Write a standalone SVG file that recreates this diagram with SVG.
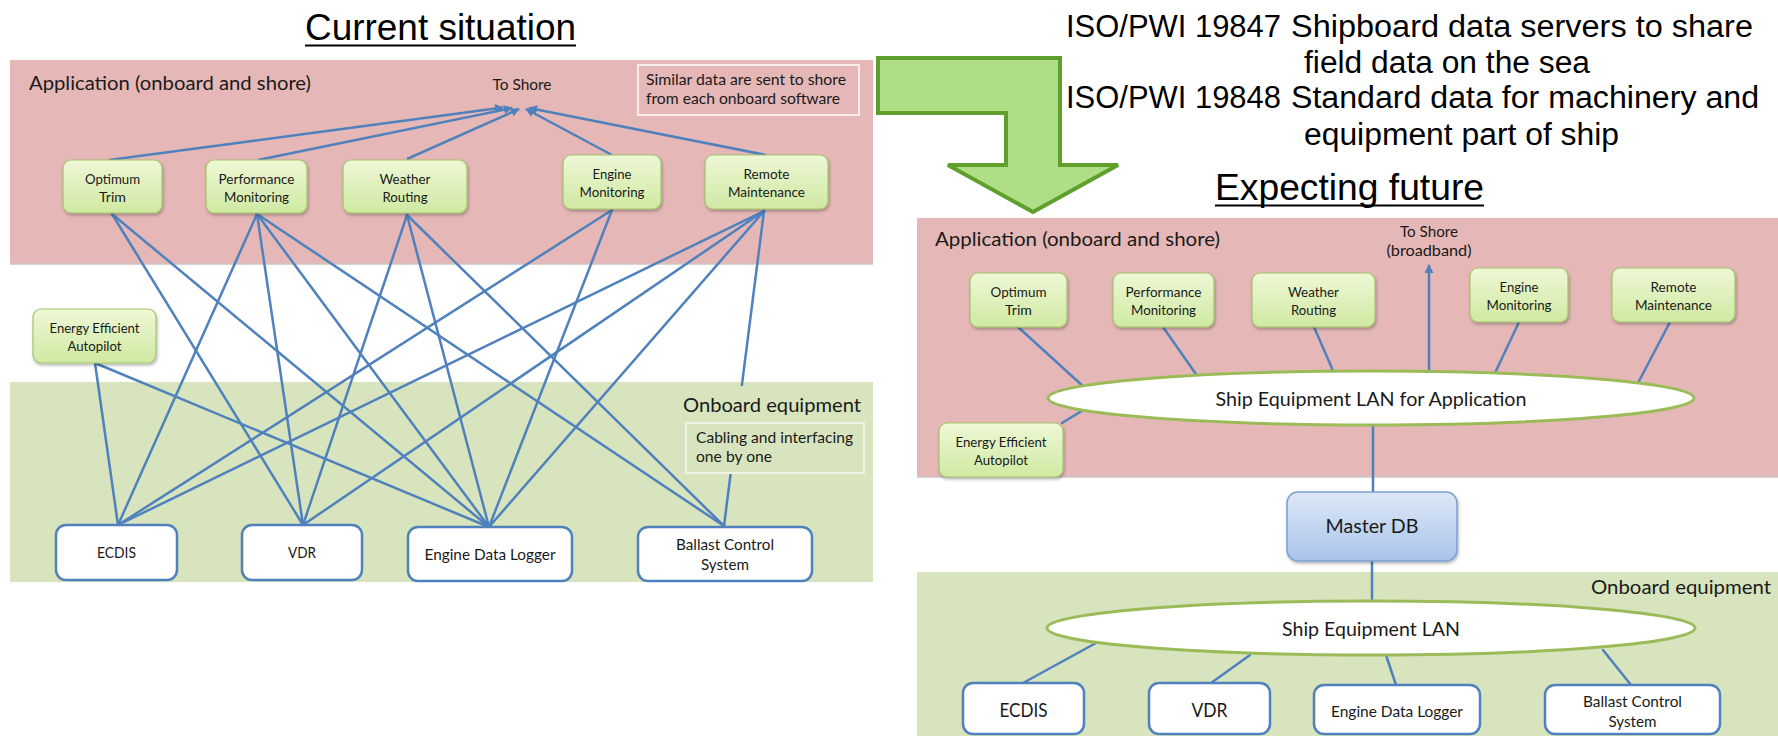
<svg xmlns="http://www.w3.org/2000/svg" width="1778" height="736" viewBox="0 0 1778 736">
  <style>
    .title { font-family: "Liberation Sans", Arial, sans-serif; font-size: 36px; fill: #000; }
    .iso { font-family: "Liberation Sans", Arial, sans-serif; font-size: 31px; fill: #000; }
    .sect { font-family: Lato, "Open Sans", sans-serif; font-size: 19.5px; fill: #1a1a1a; }
    .note { font-family: Lato, "Open Sans", sans-serif; font-size: 15px; fill: #1a1a1a; }
    .lbl { font-family: Lato, "Open Sans", sans-serif; font-size: 13.2px; fill: #1a1a1a; text-anchor: middle; }
    .eq { font-family: Lato, "Open Sans", sans-serif; font-size: 15.2px; fill: #1a1a1a; text-anchor: middle; }
    .eqbig { font-family: Lato, "Open Sans", sans-serif; font-size: 19px; fill: #1a1a1a; text-anchor: middle; }
    .mid { text-anchor: middle; }
    .pink { fill: #e5b8b7; }
    .green { fill: #d7e4bd; }
    .app { fill: url(#appFill); stroke: #a3c46a; stroke-width: 1.2; filter: url(#shadow); }
    .equip { fill: #ffffff; stroke: #4f81bd; stroke-width: 2.5; }
    .lan { fill: #ffffff; stroke: #9bbb59; stroke-width: 3; }
    .wire { stroke: #4f81bd; stroke-width: 2.5; fill: none; stroke-linecap: round; }
    .up { stroke: #4f81bd; stroke-width: 2.5; fill: none; marker-end: url(#head); }
  </style>
  <defs>
    <linearGradient id="appFill" x1="0" y1="0" x2="0" y2="1">
      <stop offset="0" stop-color="#eef8d6"/>
      <stop offset="1" stop-color="#cfe9a2"/>
    </linearGradient>
    <linearGradient id="dbFill" x1="0" y1="0" x2="0" y2="1">
      <stop offset="0" stop-color="#dde8f6"/>
      <stop offset="1" stop-color="#a9c4ea"/>
    </linearGradient>
    <filter id="shadow" x="-10%" y="-10%" width="130%" height="140%">
      <feDropShadow dx="1" dy="2" stdDeviation="1.5" flood-color="#000" flood-opacity="0.28"/>
    </filter>
    <marker id="head" viewBox="0 0 10 10" refX="9" refY="5" markerWidth="3.6" markerHeight="3.6" orient="auto">
      <path d="M0,0 L10,5 L0,10 z" fill="#4f81bd"/>
    </marker>
  </defs>

  <rect width="1778" height="736" fill="#ffffff"/>

  <!-- ===== Left: current situation ===== -->
  <text class="title mid" x="440.5" y="40" textLength="271" lengthAdjust="spacingAndGlyphs">Current situation</text>
  <line x1="305" y1="45.5" x2="576" y2="45.5" stroke="#000" stroke-width="2"/>

  <g id="left-bands">
    <rect class="pink" x="10" y="60" width="863" height="204"/>
    <line x1="10" y1="264" x2="873" y2="264" stroke="#cdc4c4" stroke-width="1.5"/>
    <rect class="green" x="10" y="382" width="863" height="200"/>
  </g>

  <g id="left-labels">
    <text class="sect" x="29" y="90" textLength="282" lengthAdjust="spacingAndGlyphs">Application (onboard and shore)</text>
    <text class="note mid" x="522" y="90" font-size="14.5" textLength="59" lengthAdjust="spacingAndGlyphs">To Shore</text>
    <rect x="638" y="65" width="221" height="50" fill="none" stroke="#f6ecec" stroke-width="2"/>
    <text class="note" x="646" y="85" textLength="200" lengthAdjust="spacingAndGlyphs">Similar data are sent to shore</text>
    <text class="note" x="646" y="104" textLength="194" lengthAdjust="spacingAndGlyphs">from each onboard software</text>
  </g>

  <g id="left-connectors">
    <!-- uplinks to shore -->
    <line class="up" x1="109" y1="160" x2="503" y2="107.5"/>
    <line class="up" x1="258" y1="160" x2="512" y2="108"/>
    <line class="up" x1="407" y1="159" x2="519" y2="109"/>
    <line class="up" x1="612" y1="155" x2="526" y2="109"/>
    <line class="up" x1="766" y1="155" x2="529" y2="108"/>
    <!-- point-to-point cabling -->
    <line class="wire" x1="112" y1="214" x2="303" y2="525"/>
    <line class="wire" x1="112" y1="214" x2="489" y2="527"/>
    <line class="wire" x1="257" y1="214" x2="118" y2="525"/>
    <line class="wire" x1="257" y1="214" x2="303" y2="525"/>
    <line class="wire" x1="257" y1="214" x2="489" y2="527"/>
    <line class="wire" x1="257" y1="214" x2="724" y2="526"/>
    <line class="wire" x1="407" y1="215" x2="303" y2="525"/>
    <line class="wire" x1="407" y1="215" x2="489" y2="527"/>
    <line class="wire" x1="407" y1="215" x2="724" y2="526"/>
    <line class="wire" x1="612" y1="210" x2="118" y2="525"/>
    <line class="wire" x1="612" y1="210" x2="489" y2="527"/>
    <line class="wire" x1="764" y1="211" x2="118" y2="525"/>
    <line class="wire" x1="764" y1="211" x2="303" y2="525"/>
    <line class="wire" x1="764" y1="211" x2="489" y2="527"/>
    <line class="wire" x1="764" y1="211" x2="724" y2="526"/>
    <line class="wire" x1="95" y1="363" x2="118" y2="525"/>
    <line class="wire" x1="95" y1="363" x2="489" y2="527"/>
  </g>

  <g id="left-onboard-note">
    <rect class="green" x="680" y="386" width="186" height="88"/>
    <text class="sect" x="683" y="412" textLength="178" lengthAdjust="spacingAndGlyphs">Onboard equipment</text>
    <rect x="686" y="423" width="178" height="50" fill="none" stroke="#eef3e3" stroke-width="2"/>
    <text class="note" x="696" y="443" textLength="157" lengthAdjust="spacingAndGlyphs">Cabling and interfacing</text>
    <text class="note" x="696" y="462" textLength="76" lengthAdjust="spacingAndGlyphs">one by one</text>
  </g>

  <g id="L-optimum-trim">
    <rect class="app" x="63" y="160" width="99" height="53" rx="8"/>
    <text class="lbl" x="112.5" y="184" textLength="55" lengthAdjust="spacingAndGlyphs">Optimum</text>
    <text class="lbl" x="112.5" y="202" textLength="27" lengthAdjust="spacingAndGlyphs">Trim</text>
  </g>
  <g id="L-performance-monitoring">
    <rect class="app" x="206" y="160" width="101" height="53" rx="8"/>
    <text class="lbl" x="256.5" y="184" textLength="76" lengthAdjust="spacingAndGlyphs">Performance</text>
    <text class="lbl" x="256.5" y="202" textLength="65" lengthAdjust="spacingAndGlyphs">Monitoring</text>
  </g>
  <g id="L-weather-routing">
    <rect class="app" x="343" y="160" width="124" height="53" rx="8"/>
    <text class="lbl" x="405" y="184" textLength="51" lengthAdjust="spacingAndGlyphs">Weather</text>
    <text class="lbl" x="405" y="202" textLength="45" lengthAdjust="spacingAndGlyphs">Routing</text>
  </g>
  <g id="L-engine-monitoring">
    <rect class="app" x="563" y="155" width="98" height="54" rx="8"/>
    <text class="lbl" x="612" y="179" textLength="39" lengthAdjust="spacingAndGlyphs">Engine</text>
    <text class="lbl" x="612" y="197" textLength="65" lengthAdjust="spacingAndGlyphs">Monitoring</text>
  </g>
  <g id="L-remote-maintenance">
    <rect class="app" x="705" y="155" width="123" height="54" rx="8"/>
    <text class="lbl" x="766.5" y="179" textLength="46" lengthAdjust="spacingAndGlyphs">Remote</text>
    <text class="lbl" x="766.5" y="197" textLength="77" lengthAdjust="spacingAndGlyphs">Maintenance</text>
  </g>
  <g id="L-energy-efficient-autopilot">
    <rect class="app" x="33" y="309" width="123" height="54" rx="8"/>
    <text class="lbl" x="94.5" y="333" textLength="90" lengthAdjust="spacingAndGlyphs">Energy Efficient</text>
    <text class="lbl" x="94.5" y="351" textLength="54" lengthAdjust="spacingAndGlyphs">Autopilot</text>
  </g>

  <g id="L-ecdis">
    <rect class="equip" x="56" y="525" width="121" height="55" rx="10"/>
    <text class="eq" x="116.5" y="558" textLength="39" lengthAdjust="spacingAndGlyphs">ECDIS</text>
  </g>
  <g id="L-vdr">
    <rect class="equip" x="242" y="525" width="120" height="55" rx="10"/>
    <text class="eq" x="302" y="558" textLength="28" lengthAdjust="spacingAndGlyphs">VDR</text>
  </g>
  <g id="L-engine-data-logger">
    <rect class="equip" x="408" y="527" width="164" height="54" rx="10"/>
    <text class="eq" x="490" y="560" textLength="131" lengthAdjust="spacingAndGlyphs">Engine Data Logger</text>
  </g>
  <g id="L-ballast-control">
    <rect class="equip" x="638" y="527" width="174" height="54" rx="10"/>
    <text class="eq" x="725" y="550" textLength="98" lengthAdjust="spacingAndGlyphs">Ballast Control</text>
    <text class="eq" x="725" y="570" textLength="48" lengthAdjust="spacingAndGlyphs">System</text>
  </g>

  <!-- ===== Transition arrow ===== -->
  <g id="transition-arrow">
    <polygon points="878,58 1060,58 1060,165 1118,165 1033,212 948,165 1006,165 1006,113 878,113"
             fill="#b0de86" stroke="#5e9f2e" stroke-width="4" stroke-linejoin="miter"/>
  </g>

  <!-- ===== Standards text ===== -->
  <g id="standards">
    <text class="iso" x="1066" y="37" textLength="215" lengthAdjust="spacingAndGlyphs">ISO/PWI 19847</text>
    <text class="iso" x="1291" y="37" textLength="462" lengthAdjust="spacingAndGlyphs">Shipboard data servers to share</text>
    <text class="iso" x="1304" y="73" textLength="286" lengthAdjust="spacingAndGlyphs">field data on the sea</text>
    <text class="iso" x="1066" y="108" textLength="215" lengthAdjust="spacingAndGlyphs">ISO/PWI 19848</text>
    <text class="iso" x="1291" y="108" textLength="468" lengthAdjust="spacingAndGlyphs">Standard data for machinery and</text>
    <text class="iso" x="1304" y="145" textLength="315" lengthAdjust="spacingAndGlyphs">equipment part of ship</text>
  </g>

  <!-- ===== Right: expecting future ===== -->
  <text class="title mid" x="1349.5" y="200" textLength="269" lengthAdjust="spacingAndGlyphs">Expecting future</text>
  <line x1="1215" y1="205.5" x2="1484" y2="205.5" stroke="#000" stroke-width="2"/>

  <g id="right-bands">
    <rect class="pink" x="917" y="218" width="861" height="259"/>
    <line x1="917" y1="477" x2="1778" y2="477" stroke="#cdc4c4" stroke-width="1.5"/>
    <rect class="green" x="917" y="572" width="861" height="164"/>
  </g>

  <g id="right-labels">
    <text class="sect" x="935" y="246" textLength="285" lengthAdjust="spacingAndGlyphs">Application (onboard and shore)</text>
    <text class="note mid" x="1429" y="237" font-size="14" textLength="58" lengthAdjust="spacingAndGlyphs">To Shore</text>
    <text class="note mid" x="1429" y="256" font-size="14" textLength="85" lengthAdjust="spacingAndGlyphs">(broadband)</text>
    <text class="sect" x="1591" y="594" textLength="180" lengthAdjust="spacingAndGlyphs">Onboard equipment</text>
  </g>

  <g id="right-connectors">
    <line class="wire" x1="1018" y1="327" x2="1085" y2="388"/>
    <line class="wire" x1="1163" y1="327" x2="1198" y2="377"/>
    <line class="wire" x1="1314" y1="327" x2="1334" y2="373"/>
    <line class="wire" x1="1519" y1="322" x2="1495" y2="373"/>
    <line class="wire" x1="1670" y1="322" x2="1638" y2="383"/>
    <line class="wire" x1="1062" y1="423" x2="1085" y2="409"/>
    <line class="up" x1="1429" y1="372" x2="1429" y2="265"/>
    <line class="wire" x1="1373" y1="425" x2="1373" y2="492"/>
    <line class="wire" x1="1372" y1="561" x2="1372" y2="602"/>
    <line class="wire" x1="1096" y1="643" x2="1023" y2="683"/>
    <line class="wire" x1="1250" y1="655" x2="1211" y2="683"/>
    <line class="wire" x1="1386" y1="655" x2="1396" y2="685"/>
    <line class="wire" x1="1603" y1="650" x2="1631" y2="685"/>
  </g>

  <g id="R-optimum-trim">
    <rect class="app" x="970" y="273" width="97" height="54" rx="8"/>
    <text class="lbl" x="1018.5" y="297" textLength="56" lengthAdjust="spacingAndGlyphs">Optimum</text>
    <text class="lbl" x="1018.5" y="315" textLength="27" lengthAdjust="spacingAndGlyphs">Trim</text>
  </g>
  <g id="R-performance-monitoring">
    <rect class="app" x="1113" y="273" width="101" height="54" rx="8"/>
    <text class="lbl" x="1163.5" y="297" textLength="76" lengthAdjust="spacingAndGlyphs">Performance</text>
    <text class="lbl" x="1163.5" y="315" textLength="65" lengthAdjust="spacingAndGlyphs">Monitoring</text>
  </g>
  <g id="R-weather-routing">
    <rect class="app" x="1252" y="273" width="123" height="54" rx="8"/>
    <text class="lbl" x="1313.5" y="297" textLength="51" lengthAdjust="spacingAndGlyphs">Weather</text>
    <text class="lbl" x="1313.5" y="315" textLength="45" lengthAdjust="spacingAndGlyphs">Routing</text>
  </g>
  <g id="R-engine-monitoring">
    <rect class="app" x="1470" y="268" width="98" height="54" rx="8"/>
    <text class="lbl" x="1519" y="292" textLength="39" lengthAdjust="spacingAndGlyphs">Engine</text>
    <text class="lbl" x="1519" y="310" textLength="65" lengthAdjust="spacingAndGlyphs">Monitoring</text>
  </g>
  <g id="R-remote-maintenance">
    <rect class="app" x="1612" y="268" width="123" height="54" rx="8"/>
    <text class="lbl" x="1673.5" y="292" textLength="46" lengthAdjust="spacingAndGlyphs">Remote</text>
    <text class="lbl" x="1673.5" y="310" textLength="77" lengthAdjust="spacingAndGlyphs">Maintenance</text>
  </g>
  <g id="R-energy-efficient-autopilot">
    <rect class="app" x="939" y="423" width="124" height="54" rx="8"/>
    <text class="lbl" x="1001" y="447" textLength="91" lengthAdjust="spacingAndGlyphs">Energy Efficient</text>
    <text class="lbl" x="1001" y="465" textLength="54" lengthAdjust="spacingAndGlyphs">Autopilot</text>
  </g>

  <g id="R-app-lan">
    <ellipse class="lan" cx="1371" cy="398" rx="323" ry="27"/>
    <text class="sect mid" x="1371" y="406" textLength="311" lengthAdjust="spacingAndGlyphs">Ship Equipment LAN for Application</text>
  </g>
  <g id="R-master-db">
    <rect x="1287" y="492" width="170" height="69" rx="11" fill="url(#dbFill)" stroke="#7c9fd2" stroke-width="1.5" filter="url(#shadow)"/>
    <text class="sect mid" x="1372" y="533" textLength="93" lengthAdjust="spacingAndGlyphs">Master DB</text>
  </g>
  <g id="R-equipment-lan">
    <ellipse class="lan" cx="1371" cy="628" rx="324" ry="27"/>
    <text class="sect mid" x="1371" y="636" textLength="178" lengthAdjust="spacingAndGlyphs">Ship Equipment LAN</text>
  </g>

  <g id="R-ecdis">
    <rect class="equip" x="963" y="683" width="121" height="51" rx="10"/>
    <text class="eqbig" x="1023.5" y="717" textLength="48" lengthAdjust="spacingAndGlyphs">ECDIS</text>
  </g>
  <g id="R-vdr">
    <rect class="equip" x="1149" y="683" width="121" height="51" rx="10"/>
    <text class="eqbig" x="1209.5" y="717" textLength="36" lengthAdjust="spacingAndGlyphs">VDR</text>
  </g>
  <g id="R-engine-data-logger">
    <rect class="equip" x="1314" y="685" width="166" height="49" rx="10"/>
    <text class="eq" x="1397" y="717" textLength="132" lengthAdjust="spacingAndGlyphs">Engine Data Logger</text>
  </g>
  <g id="R-ballast-control">
    <rect class="equip" x="1545" y="685" width="175" height="49" rx="10"/>
    <text class="eq" x="1632.5" y="707" textLength="99" lengthAdjust="spacingAndGlyphs">Ballast Control</text>
    <text class="eq" x="1632.5" y="727" textLength="48" lengthAdjust="spacingAndGlyphs">System</text>
  </g>
</svg>
